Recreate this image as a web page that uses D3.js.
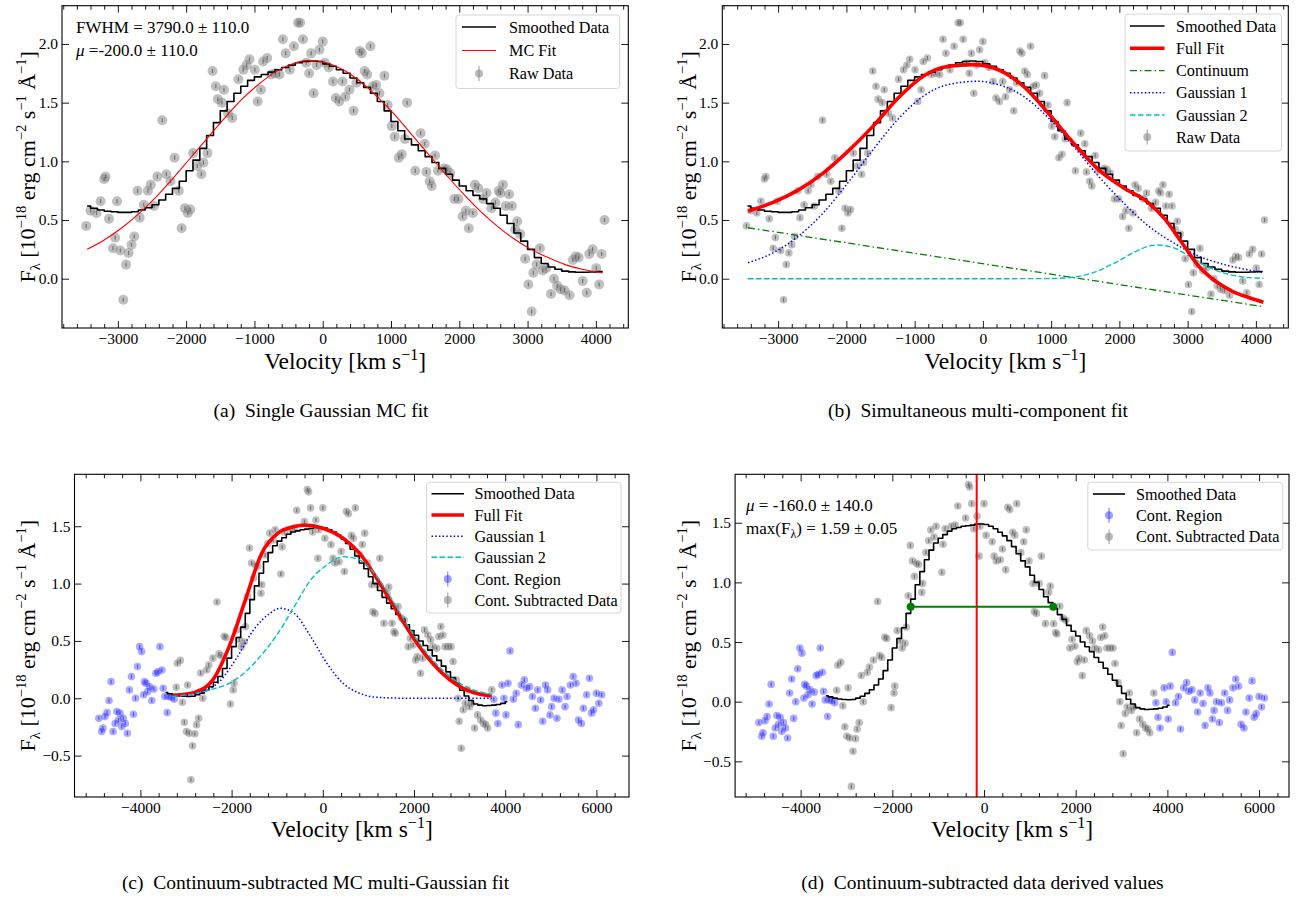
<!DOCTYPE html>
<html><head><meta charset="utf-8">
<script src="https://cdn.jsdelivr.net/npm/d3@7"></script>
<style>
body{margin:0;background:#fff}
svg{display:block}
text{font-family:'Liberation Serif','Times New Roman',serif;fill:#000}
</style>
</head><body>
<svg id="fig" width="1299" height="901"></svg>
<script>
// ---------------- DATA ----------------
// Raw data (panels a, b)
const rawV = [-3464,-3400,-3313,-3253,-3200,-3180,-3130,-3072,-3040,-3012,-2964,-2920,-2880,-2843,-2800,-2760,-2711,-2680,-2620,-2560,-2518,-2470,-2422,-2350,-2289,-2229,-2169,-2108,-2066,-2018,-1976,-1940,-1898,-1837,-1777,-1747,-1687,-1614,-1566,-1536,-1476,-1446,-1386,-1325,-1235,-1163,-1114,-1072,-994,-952,-904,-873,-813,-753,-693,-633,-584,-542,-482,-422,-361,-331,-289,-241,-199,-169,-133,-90,-48,0,30,90,150,193,241,289,331,392,452,494,542,572,614,651,699,735,783,831,904,952,1012,1054,1114,1157,1205,1235,1355,1434,1494,1518,1566,1596,1645,1687,1777,1819,1867,1928,1988,2048,2096,2139,2199,2229,2277,2349,2398,2470,2530,2578,2602,2639,2681,2729,2771,2819,2849,2892,2964,3012,3060,3084,3133,3181,3223,3271,3343,3386,3434,3482,3542,3614,3663,3705,3747,3807,3867,3904,3952,4006,4048,4084,4127];
const rawF = [0.45,0.58,0.56,0.66,0.85,0.87,0.51,0.26,0.35,0.66,0.24,-0.18,0.12,0.22,0.29,0.36,0.75,0.52,0.63,0.75,0.80,0.62,0.87,1.35,0.89,0.83,1.03,0.75,0.43,0.60,0.56,0.59,1.07,0.96,0.89,0.99,1.07,1.77,1.64,1.53,1.50,1.61,1.41,1.37,1.70,1.78,1.82,1.87,1.78,1.51,1.61,1.85,1.88,1.74,1.75,1.74,2.04,1.92,1.78,1.98,2.18,2.18,2.04,1.84,1.75,1.92,1.58,1.82,1.95,2.02,1.84,1.80,1.68,1.54,1.51,1.68,1.55,1.61,1.43,1.67,1.94,1.92,1.77,1.74,1.98,1.64,1.65,1.58,1.73,1.48,1.30,1.21,1.03,1.06,1.19,1.50,0.92,1.24,1.15,0.91,0.83,0.79,1.05,0.92,0.94,0.93,0.90,0.68,0.68,0.53,0.58,0.43,0.56,0.80,0.77,0.68,0.73,0.60,0.65,0.75,0.73,0.80,0.62,0.72,0.62,0.42,0.49,0.38,0.17,-0.05,-0.28,0.05,0.12,0.26,0.07,0.09,-0.13,0.00,-0.06,-0.09,-0.10,-0.14,0.16,0.19,0.18,-0.02,-0.12,0.21,0.25,0.09,-0.05,0.21,0.50];

// Smoothed data (panels a, b)
const smoothV_ab = [-3450,-3350,-3250,-3150,-3050,-2950,-2850,-2750,-2650,-2550,-2450,-2350,-2250,-2150,-2050,-1950,-1850,-1750,-1650,-1550,-1450,-1350,-1250,-1150,-1050,-950,-850,-750,-650,-550,-450,-350,-250,-150,-50,50,150,250,350,450,550,650,750,850,950,1050,1150,1250,1350,1450,1550,1650,1750,1850,1950,2050,2150,2250,2350,2450,2550,2650,2750,2850,2950,3050,3150,3250,3350,3450,3550,3650,3750,3850,3950,4050,4100];
const smoothF_ab = [0.62,0.60,0.585,0.575,0.57,0.565,0.565,0.57,0.585,0.605,0.63,0.67,0.72,0.77,0.83,0.92,1.01,1.11,1.22,1.33,1.43,1.51,1.58,1.64,1.69,1.72,1.74,1.76,1.78,1.80,1.82,1.84,1.85,1.855,1.85,1.83,1.81,1.78,1.75,1.71,1.67,1.63,1.58,1.51,1.43,1.34,1.26,1.19,1.14,1.09,1.04,0.99,0.94,0.89,0.84,0.79,0.75,0.71,0.68,0.64,0.60,0.54,0.47,0.39,0.32,0.25,0.18,0.13,0.10,0.08,0.065,0.058,0.055,0.055,0.057,0.06,0.062];

// MC single Gaussian fit (panel a)
const mcV = [-3450,-3200,-2950,-2700,-2450,-2200,-1950,-1700,-1450,-1200,-950,-700,-450,-200,50,300,550,800,1050,1300,1550,1800,2050,2300,2550,2800,3050,3300,3550,3800,4100];
const mcF = [0.25,0.33,0.43,0.55,0.69,0.85,1.02,1.19,1.36,1.52,1.65,1.76,1.83,1.86,1.84,1.78,1.68,1.55,1.40,1.23,1.06,0.89,0.73,0.58,0.45,0.34,0.25,0.18,0.12,0.08,0.05];

// Panel b components
const fitBV = [-3441,-3075,-2708,-2341,-1974,-1608,-1241,-874,-507,-141,226,593,960,1326,1693,2060,2427,2671,2916,3160,3405,3649,3894,4110];
const fitBF = [0.576,0.65,0.755,0.90,1.087,1.30,1.54,1.725,1.81,1.824,1.78,1.64,1.41,1.157,0.93,0.775,0.647,0.505,0.306,0.108,-0.02,-0.105,-0.16,-0.20];
const contBV = [-3441,4110];
const contBF = [0.434,-0.238];
const g1BV = [-3441,-3075,-2708,-2341,-1974,-1608,-1241,-874,-507,-80,226,593,960,1326,1693,2060,2427,2793,3160,3527,3894,4110];
const g1BF = [0.136,0.22,0.36,0.56,0.82,1.10,1.36,1.555,1.654,1.682,1.654,1.555,1.37,1.13,0.874,0.647,0.448,0.306,0.193,0.122,0.074,0.05];
const g2BV = [-3441,-2000,0,900,1200,1450,1700,1950,2200,2450,2550,2800,3050,3300,3550,3800,4110];
const g2BF = [0,0,0,0.001,0.006,0.025,0.07,0.14,0.22,0.28,0.287,0.262,0.185,0.10,0.045,0.015,0.003];

// Continuum-subtracted data (panels c, d)
const subV = [-3214,-3188,-3125,-3080,-3036,-2991,-2964,-2929,-2893,-2857,-2804,-2768,-2723,-2679,-2634,-2545,-2500,-2411,-2321,-2277,-2232,-2161,-2125,-2027,-1964,-1946,-1893,-1830,-1786,-1723,-1696,-1652,-1607,-1563,-1518,-1473,-1429,-1357,-1339,-1268,-1205,-1161,-1089,-1045,-920,-893,-848,-714,-625,-571,-402,-339,-312,-268,-223,-152,-107,-89,0,45,179,223,268,357,402,473,518,562,625,670,714,804,866,920,982,1071,1098,1143,1205,1250,1339,1411,1446,1518,1562,1589,1652,1723,1786,1875,1920,1982,2036,2071,2143,2188,2232,2304,2366,2411,2500,2545,2589,2634,2679,2750,2813,2857,2929,2964,2991,3036,3080,3125,3170,3214,3259,3330,3393,3464,3527,3571,3616,3705];
const subF = [0.096,0.305,0.33,-0.035,-0.21,-0.29,0.116,-0.305,-0.71,-0.415,-0.31,-0.23,-0.174,0.22,0.0,0.247,0.29,0.35,0.84,0.387,0.37,0.54,0.53,-0.05,0.073,0.13,0.596,0.51,0.45,0.49,0.625,0.887,1.31,1.18,1.05,1.16,1.15,0.916,0.99,1.25,1.35,1.44,1.38,1.47,1.084,1.32,1.45,1.47,1.48,1.64,1.54,1.82,1.80,1.66,1.45,1.555,1.22,1.47,1.66,1.395,1.34,1.22,1.18,1.19,1.28,1.105,1.63,1.61,1.42,1.395,1.66,1.25,1.34,1.44,1.18,0.99,0.755,0.74,0.99,1.22,0.654,0.916,0.97,0.654,0.58,0.567,0.80,0.70,0.683,0.45,0.523,0.465,0.334,0.363,0.218,0.35,0.596,0.552,0.509,0.45,0.436,0.538,0.625,0.552,0.45,0.45,0.45,0.32,0.16,0.0,-0.2,-0.436,-0.10,-0.044,0.073,-0.073,-0.044,-0.26,-0.145,-0.19,-0.22,-0.23,-0.26,0.073];

// Continuum region points (panels c, d)
const contRegV = [-4911,-4848,-4821,-4777,-4732,-4688,-4643,-4598,-4554,-4518,-4482,-4446,-4411,-4375,-4330,-4286,-4241,-4196,-4152,-4107,-4063,-4018,-3973,-3929,-3911,-3875,-3839,-3795,-3750,-3705,-3661,-3616,-3571,-3527,-3500,-3464,-3411,-3375,-3321,-3259,3750,3795,3839,3929,3973,4018,4063,4107,4179,4241,4286,4357,4420,4464,4536,4598,4661,4714,4777,4821,4884,4929,4982,5018,5071,5134,5179,5250,5313,5357,5429,5491,5554,5607,5670,5714,5786,5848,5893,5938,6000,6054,6116];
const contRegF = [-0.174,-0.29,-0.26,-0.16,-0.125,-0.02,0.145,-0.29,-0.22,-0.116,-0.19,-0.13,-0.247,-0.174,-0.22,-0.305,0.073,0.19,-0.14,0.0,0.276,0.45,0.407,0.03,0.145,0.13,0.058,0.10,-0.02,0.08,0.218,0.23,0.45,0.247,0.087,0.015,-0.125,0.015,0.009,-0.009,-0.009,-0.13,-0.22,0.116,0.0,-0.145,0.13,0.413,-0.009,0.044,-0.23,0.116,0.16,0.087,0.10,0.015,-0.087,0.073,-0.015,-0.2,0.116,0.073,-0.145,-0.073,0.0,-0.174,-0.009,0.073,-0.073,0.015,0.116,0.19,0.13,-0.19,-0.22,-0.087,0.03,0.174,-0.13,-0.10,0.044,-0.044,0.03];

// Smoothed continuum-subtracted data (panels c, d)
const smoothV_cd = [-3450,-3350,-3250,-3150,-3050,-2950,-2850,-2750,-2650,-2550,-2450,-2350,-2250,-2150,-2050,-1950,-1850,-1750,-1650,-1550,-1450,-1350,-1250,-1150,-1050,-950,-850,-750,-650,-550,-450,-350,-250,-150,-50,50,150,250,350,450,550,650,750,850,950,1050,1150,1250,1350,1450,1550,1650,1750,1850,1950,2050,2150,2250,2350,2450,2550,2650,2750,2850,2950,3050,3150,3250,3350,3450,3550,3650,3750,3850,3950,4050];
const smoothF_cd = [0.05,0.04,0.03,0.022,0.018,0.016,0.018,0.03,0.045,0.07,0.10,0.14,0.19,0.26,0.35,0.45,0.53,0.62,0.74,0.86,0.98,1.09,1.19,1.27,1.33,1.37,1.40,1.43,1.45,1.46,1.47,1.475,1.48,1.49,1.49,1.485,1.47,1.45,1.42,1.39,1.35,1.30,1.24,1.18,1.13,1.06,1.00,0.94,0.88,0.83,0.78,0.73,0.69,0.64,0.59,0.55,0.50,0.46,0.42,0.37,0.33,0.28,0.23,0.18,0.13,0.07,0.02,-0.02,-0.05,-0.06,-0.065,-0.063,-0.06,-0.055,-0.045,-0.03];

// Panel c fit components
const fitCV = [-3300,-3125,-2768,-2411,-2054,-1696,-1339,-982,-625,-402,0,446,804,1161,1518,1875,2232,2589,2946,3304,3705];
const fitCF = [0.025,0.03,0.058,0.16,0.45,0.86,1.265,1.44,1.497,1.51,1.483,1.395,1.265,1.06,0.83,0.596,0.39,0.23,0.116,0.05,0.02];
const g1CV = [-3304,-2768,-2232,-1875,-1518,-1161,-937,-625,-268,89,446,804,1161,1875,3705];
const g1CF = [0.015,0.044,0.16,0.36,0.596,0.74,0.785,0.74,0.54,0.305,0.13,0.044,0.009,0,0];
const g2CV = [-3304,-2768,-2411,-2054,-1696,-1339,-982,-625,-268,89,446,804,1161,1518,1875,2232,2589,2946,3304,3705];
const g2CF = [0.015,0.044,0.08,0.13,0.23,0.38,0.567,0.80,1.03,1.163,1.235,1.206,1.076,0.86,0.625,0.42,0.26,0.145,0.073,0.035];

// Panel d derived values
const muV = -160;
const fwhmV = [-1600, 1510];
const fwhmF = [0.795, 0.795];

// Ticks
const xTicksAB = [-3000,-2000,-1000,0,1000,2000,3000,4000];
const xMinorAB = d3.range(-3800, 4401, 200);
const yTicksAB = [0,0.5,1,1.5,2];
const xTicksCD = [-4000,-2000,0,2000,4000,6000];
const xMinorCD = d3.range(-5200, 6700, 400);
const yTicksCD = [-0.5,0,0.5,1,1.5];

// Text
const captions = ["(a)  Single Gaussian MC fit","(b)  Simultaneous multi-component fit","(c)  Continuum-subtracted MC multi-Gaussian fit","(d)  Continuum-subtracted data derived values"];
const legendA = ["Smoothed Data","MC Fit","Raw Data"];
const legendB = ["Smoothed Data","Full Fit","Continuum","Gaussian 1","Gaussian 2","Raw Data"];
const legendC = ["Smoothed Data","Full Fit","Gaussian 1","Gaussian 2","Cont. Region","Cont. Subtracted Data"];
const legendD = ["Smoothed Data","Cont. Region","Cont. Subtracted Data"];

// ---------------- DRAWING ----------------
const svg = d3.select('#fig');
const FS_TICK = 15.5, FS_LEG = 16.2, FS_LAB = 23.5, FS_YLAB = 22, FS_NOTE = 17, FS_CAP = 19.5;

const STY = {
  smooth:{stroke:'#000', w:1.6},
  mc:{stroke:'#ff0000', w:1.1},
  full:{stroke:'#ff0000', w:3.6},
  cont:{stroke:'#008000', w:1.3, dash:'7,3,1.5,3'},
  g1:{stroke:'#0000ff', w:1.5, dash:'1.5,2.2'},
  g2:{stroke:'#00bfbf', w:1.4, dash:'5.5,2.5'},
  gray:{fill:'#808080', op:0.5, err:'#606060'},
  blue:{fill:'#0000ff', op:0.33, err:'#4040ff'}
};

function makePanel(cfg){
  const g = svg.append('g');
  const x = d3.scaleLinear().domain(cfg.xd).range([cfg.l, cfg.r]);
  const y = d3.scaleLinear().domain(cfg.yd).range([cfg.b, cfg.t]);
  const cid = 'clip' + cfg.id;
  svg.append('defs').append('clipPath').attr('id', cid)
    .append('rect').attr('x', cfg.l).attr('y', cfg.t).attr('width', cfg.r - cfg.l).attr('height', cfg.b - cfg.t);
  const plot = g.append('g').attr('clip-path', `url(#${cid})`);
  return {g, plot, x, y, cfg};
}

function axes(p, xt, xm, yt, yfmt){
  const {g, x, y, cfg} = p;
  const style = sel => { sel.select('.domain').remove(); sel.attr('font-family', null).attr('font-size', FS_TICK);
    sel.selectAll('line').attr('stroke', '#000').attr('stroke-width', 0.9); };
  const minors = xm.filter(v => !xt.includes(v) && v > cfg.xd[0] && v < cfg.xd[1]);
  g.append('g').attr('transform', `translate(0,${cfg.b})`)
    .call(d3.axisBottom(x).tickValues(xt).tickSize(-7).tickPadding(4.5).tickFormat(d3.format('d'))).call(style);
  g.append('g').attr('transform', `translate(0,${cfg.b})`)
    .call(d3.axisBottom(x).tickValues(minors).tickSize(-4).tickFormat('')).call(style);
  g.append('g').attr('transform', `translate(0,${cfg.t})`)
    .call(d3.axisTop(x).tickValues(xt).tickSize(-7).tickFormat('')).call(style);
  g.append('g').attr('transform', `translate(0,${cfg.t})`)
    .call(d3.axisTop(x).tickValues(minors).tickSize(-4).tickFormat('')).call(style);
  g.append('g').attr('transform', `translate(${cfg.l},0)`)
    .call(d3.axisLeft(y).tickValues(yt).tickSize(-7).tickPadding(4).tickFormat(d3.format(yfmt))).call(style);
  g.append('g').attr('transform', `translate(${cfg.r},0)`)
    .call(d3.axisRight(y).tickValues(yt).tickSize(-7).tickFormat('')).call(style);
  g.append('rect').attr('x', cfg.l).attr('y', cfg.t).attr('width', cfg.r - cfg.l).attr('height', cfg.b - cfg.t)
    .attr('fill', 'none').attr('stroke', '#000').attr('stroke-width', 1.1);
  // axis labels
  const xl = g.append('text').attr('x', (cfg.l + cfg.r) / 2).attr('y', cfg.xlabY).attr('text-anchor', 'middle').attr('font-size', FS_LAB);
  xl.append('tspan').text('Velocity [km s');
  xl.append('tspan').attr('dy', -9).attr('font-size', 16).text('\u22121');
  xl.append('tspan').attr('dy', 9).text(']');
  const yl = g.append('text').attr('transform', `translate(${cfg.ylabX},${(cfg.t + cfg.b) / 2}) rotate(-90)`)
    .attr('text-anchor', 'middle').attr('font-size', FS_YLAB);
  const sup = 14.5;
  yl.append('tspan').text('F');
  yl.append('tspan').attr('dy', 5).attr('font-size', sup).text('\u03bb');
  yl.append('tspan').attr('dy', -5).text(' [10');
  yl.append('tspan').attr('dy', -9).attr('font-size', sup).text('\u221218');
  yl.append('tspan').attr('dy', 9).text(' erg cm');
  yl.append('tspan').attr('dy', -9).attr('font-size', sup).text('\u22122');
  yl.append('tspan').attr('dy', 9).text(' s');
  yl.append('tspan').attr('dy', -9).attr('font-size', sup).text('\u22121');
  yl.append('tspan').attr('dy', 9).text(' \u00c5');
  yl.append('tspan').attr('dy', -9).attr('font-size', sup).text('\u22121');
  yl.append('tspan').attr('dy', 9).text(']');
}

function line(p, xs, ys, st, curve){
  const l = d3.line().x(d => p.x(d[0])).y(d => p.y(d[1])).curve(curve || d3.curveMonotoneX);
  p.plot.append('path').datum(xs.map((v, i) => [v, ys[i]])).attr('d', l)
    .attr('fill', 'none').attr('stroke', st.stroke).attr('stroke-width', st.w)
    .attr('stroke-dasharray', st.dash || null).attr('stroke-linejoin', 'round');
}

function points(p, xs, ys, st, r){
  const gg = p.plot.append('g');
  const data = xs.map((v, i) => [v, ys[i]]);
  gg.selectAll('circle').data(data).join('circle')
    .attr('cx', d => p.x(d[0])).attr('cy', d => p.y(d[1])).attr('r', r)
    .attr('fill', st.fill).attr('fill-opacity', st.op);
  gg.selectAll('line').data(data).join('line')
    .attr('x1', d => p.x(d[0])).attr('x2', d => p.x(d[0]))
    .attr('y1', d => p.y(d[1]) - 2).attr('y2', d => p.y(d[1]) + 2)
    .attr('stroke', st.err).attr('stroke-width', 1.2).attr('stroke-opacity', 0.8);
}

function legend(p, box, labels, kinds){
  const g = p.g.append('g');
  g.append('rect').attr('x', box.x0).attr('y', box.y0).attr('width', box.x1 - box.x0).attr('height', box.y1 - box.y0)
    .attr('rx', 3).attr('fill', '#fff').attr('fill-opacity', 0.85).attr('stroke', '#d6d6d6').attr('stroke-width', 1);
  labels.forEach((lab, i) => {
    const yy = box.rows[i];
    const k = kinds[i];
    if (k.type === 'line') {
      g.append('line').attr('x1', box.s0).attr('x2', box.s1).attr('y1', yy).attr('y2', yy)
        .attr('stroke', k.st.stroke).attr('stroke-width', k.st.w).attr('stroke-dasharray', k.st.dash || null);
    } else {
      const cx = (box.s0 + box.s1) / 2;
      g.append('line').attr('x1', cx).attr('x2', cx).attr('y1', yy - 7.5).attr('y2', yy + 7.5)
        .attr('stroke', k.st.fill).attr('stroke-opacity', k.st.op + 0.1).attr('stroke-width', 1.3);
      g.append('circle').attr('cx', cx).attr('cy', yy).attr('r', 4).attr('fill', k.st.fill).attr('fill-opacity', k.st.op + 0.05);
    }
    g.append('text').attr('x', box.tx).attr('y', yy).attr('dy', '0.35em').attr('font-size', FS_LEG).text(lab);
  });
}

// ---- Panel A ----
const A = makePanel({id:'a', l:62, r:628.3, t:5.7, b:328, xd:[-3818,4475], yd:[-0.42,2.326], xlabY:368.5, ylabX:35});
points(A, rawV, rawF, STY.gray, 5);
line(A, smoothV_ab, smoothF_ab, STY.smooth, d3.curveStep);
line(A, mcV, mcF, STY.mc);
axes(A, xTicksAB, xMinorAB, yTicksAB, '.1f');
legend(A, {x0:456, x1:619.6, y0:15, y1:88.5, s0:462, s1:496, tx:509, rows:[27,50.5,73.5]}, legendA,
  [{type:'line', st:STY.smooth},{type:'line', st:STY.mc},{type:'pt', st:STY.gray}]);
A.g.append('text').attr('x', 76).attr('y', 32.5).attr('font-size', FS_NOTE).text('FWHM = 3790.0 \u00b1 110.0');
const muA = A.g.append('text').attr('x', 76).attr('y', 56).attr('font-size', FS_NOTE);
muA.append('tspan').attr('font-style', 'italic').text('\u03bc');
muA.append('tspan').text(' =-200.0 \u00b1 110.0');

// ---- Panel B ----
const B = makePanel({id:'b', l:722.3, r:1288.3, t:5.7, b:328, xd:[-3818,4475], yd:[-0.42,2.326], xlabY:368.5, ylabX:695.5});
points(B, rawV, rawF, STY.gray, 3.8);
line(B, smoothV_ab, smoothF_ab, STY.smooth, d3.curveStep);
line(B, contBV, contBF, STY.cont, d3.curveLinear);
line(B, g1BV, g1BF, STY.g1);
line(B, g2BV, g2BF, STY.g2);
line(B, fitBV, fitBF, STY.full);
axes(B, xTicksAB, xMinorAB, yTicksAB, '.1f');
legend(B, {x0:1125, x1:1281.5, y0:14, y1:151, s0:1130, s1:1164.5, tx:1176, rows:[26,48.3,70.7,92.7,115,137]}, legendB,
  [{type:'line', st:STY.smooth},{type:'line', st:STY.full},{type:'line', st:STY.cont},{type:'line', st:STY.g1},{type:'line', st:STY.g2},{type:'pt', st:STY.gray}]);

// ---- Panel C ----
const C = makePanel({id:'c', l:74.5, r:629, t:474.3, b:797, xd:[-5445,6715], yd:[-0.861,1.953], xlabY:836.5, ylabX:34.5});
points(C, contRegV, contRegF, STY.blue, 3.8);
points(C, subV, subF, STY.gray, 3.8);
line(C, smoothV_cd, smoothF_cd, STY.smooth, d3.curveStep);
line(C, fitCV, fitCF, STY.full);
line(C, g1CV, g1CF, STY.g1);
line(C, g2CV, g2CF, STY.g2);
axes(C, xTicksCD, xMinorCD, yTicksCD, '.1f');
legend(C, {x0:426.6, x1:621, y0:482.3, y1:613, s0:431.5, s1:464, tx:474.4, rows:[493.7,515,536.3,557.3,579,600]}, legendC,
  [{type:'line', st:STY.smooth},{type:'line', st:STY.full},{type:'line', st:STY.g1},{type:'line', st:STY.g2},{type:'pt', st:STY.blue},{type:'pt', st:STY.gray}]);

// ---- Panel D ----
const D = makePanel({id:'d', l:735.1, r:1289, t:474.3, b:797, xd:[-5430,6653], yd:[-0.799,1.906], xlabY:836.5, ylabX:695.5});
points(D, contRegV, contRegF, STY.blue, 3.8);
points(D, subV, subF, STY.gray, 3.8);
line(D, smoothV_cd, smoothF_cd, STY.smooth, d3.curveStep);
D.plot.append('line').attr('x1', D.x(muV)).attr('x2', D.x(muV)).attr('y1', D.cfg.t).attr('y2', D.cfg.b)
  .attr('stroke', '#ff0000').attr('stroke-width', 2);
line(D, fwhmV, fwhmF, {stroke:'#008000', w:2}, d3.curveLinear);
D.plot.selectAll('circle.fw').data(fwhmV).join('circle').attr('class', 'fw')
  .attr('cx', d => D.x(d)).attr('cy', (d, i) => D.y(fwhmF[i])).attr('r', 4).attr('fill', '#008000');
axes(D, xTicksCD, xMinorCD, yTicksCD, '.1f');
legend(D, {x0:1087.8, x1:1282.8, y0:482.3, y1:550, s0:1093, s1:1125, tx:1136, rows:[494,515.3,536.7]}, legendD,
  [{type:'line', st:STY.smooth},{type:'pt', st:STY.blue},{type:'pt', st:STY.gray}]);
const muD = D.g.append('text').attr('x', 746).attr('y', 511).attr('font-size', FS_NOTE);
muD.append('tspan').attr('font-style', 'italic').text('\u03bc');
muD.append('tspan').text(' = -160.0 \u00b1 140.0');
const mxD = D.g.append('text').attr('x', 746).attr('y', 534).attr('font-size', FS_NOTE);
mxD.append('tspan').text('max(F');
mxD.append('tspan').attr('dy', 4).attr('font-size', 12).text('\u03bb');
mxD.append('tspan').attr('dy', -4).text(') = 1.59 \u00b1 0.05');

// ---- Captions ----
const capPos = [[321, 417], [978, 417], [315.5, 889], [982.5, 889]];
captions.forEach((c, i) => {
  svg.append('text').attr('x', capPos[i][0]).attr('y', capPos[i][1]).attr('text-anchor', 'middle')
    .attr('font-size', FS_CAP).attr('xml:space', 'preserve').style('white-space', 'pre').text(c);
});
</script>
</body></html>
